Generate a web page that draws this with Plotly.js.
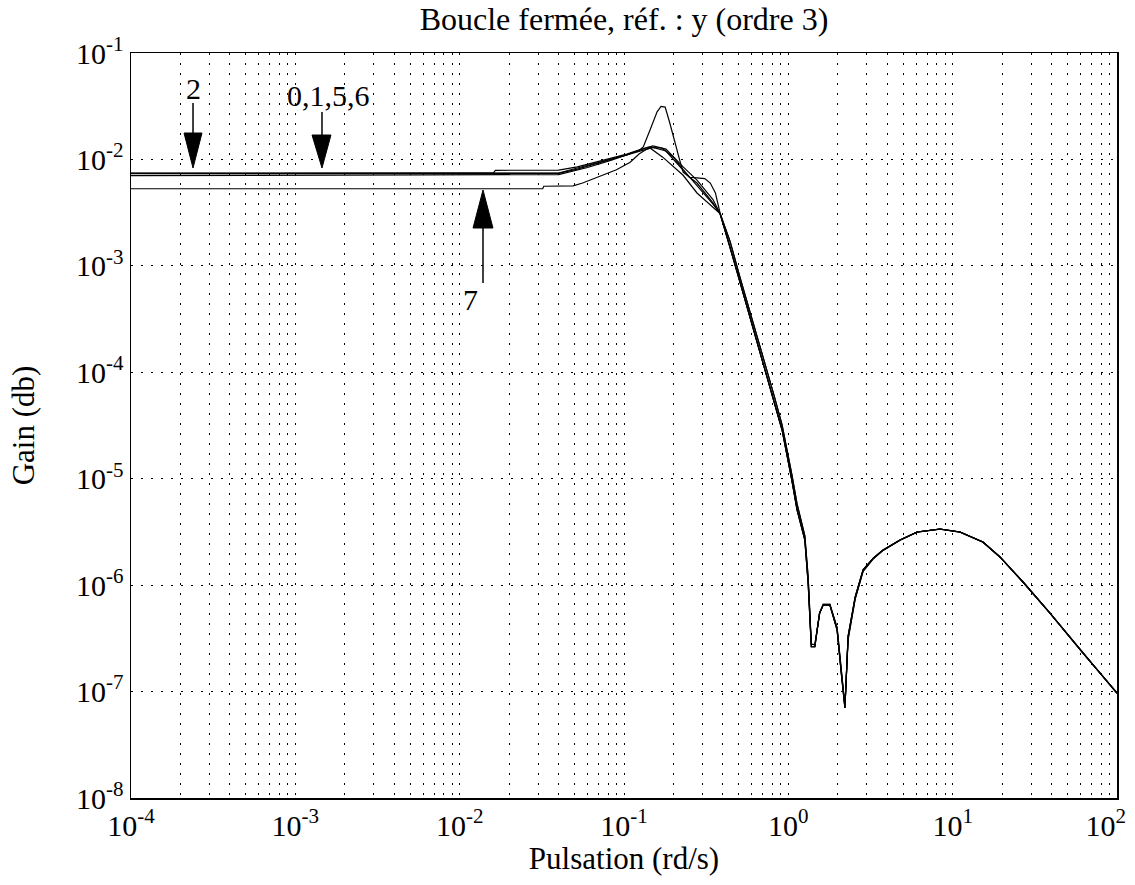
<!DOCTYPE html>
<html><head><meta charset="utf-8">
<script src="https://cdn.plot.ly/plotly-3.0.1.min.js"></script>
<style>html,body{margin:0;padding:0;background:#fff}#plot{width:1135px;height:885px}</style>
</head><body><div id="plot"></div>
<script>
// ---- data ----
const tailW = [0.442,0.508,0.545,0.62,0.721,0.82,0.916,1.05,1.13,1.26,1.32,1.38,1.45,1.55,1.63,1.79,1.98,2.1,2.21,2.31,2.55,2.85,3.3,3.77,4.78,6.07,8.37,11.1,15.3,19.4,26.8,39.1,62.1,100];
const tailA = [1.5e-3,7.0e-4,4.8e-4,2.4e-4,1.05e-4,5.2e-5,2.87e-5,9.7e-6,5.1e-6,2.66e-6,1.05e-6,2.65e-7,2.65e-7,5.5e-7,6.5e-7,6.5e-7,3.8e-7,1.5e-7,7.0e-8,3.3e-7,7.7e-7,1.39e-6,1.8e-6,2.14e-6,2.66e-6,3.16e-6,3.37e-6,3.16e-6,2.54e-6,1.84e-6,1.07e-6,5.47e-7,2.3e-7,9.7e-8];
const tailB = [1.7e-3,7.8e-4,5.3e-4,2.6e-4,1.2e-4,6.0e-5,3.2e-5,1.1e-5,5.8e-6,2.9e-6,1.2e-6,2.8e-7,2.75e-7,5.4e-7,6.6e-7,6.6e-7,4.0e-7,1.6e-7,7.3e-8,3.1e-7,7.4e-7,1.35e-6,1.78e-6,2.12e-6,2.64e-6,3.15e-6,3.36e-6,3.15e-6,2.53e-6,1.84e-6,1.07e-6,5.45e-7,2.3e-7,9.6e-8];

const c0W = [1e-4,0.016,0.0165,0.04,0.052,0.065,0.083,0.104,0.124,0.15,0.18,0.229,0.278,0.348,0.384];
const c0G = [7.45e-3,7.45e-3,7.9e-3,7.95e-3,8.5e-3,9.3e-3,1.03e-2,1.12e-2,1.23e-2,1.34e-2,1.25e-2,8.5e-3,6.4e-3,4.2e-3,3.1e-3];

const c1W = [1e-4,0.04,0.052,0.065,0.083,0.104,0.124,0.131,0.144,0.159,0.168,0.178,0.19,0.204,0.218,0.229,0.278,0.348,0.384];
const c1G = [7.4e-3,7.45e-3,8.3e-3,9.1e-3,1.0e-2,1.1e-2,1.22e-2,1.31e-2,1.89e-2,2.8e-2,3.15e-2,3.1e-2,2.2e-2,1.43e-2,9.9e-3,7.6e-3,6.0e-3,3.9e-3,3.1e-3];

const c5W = [1e-4,0.04,0.052,0.065,0.083,0.104,0.124,0.15,0.18,0.229,0.25,0.278,0.31,0.335,0.36,0.384];
const c5G = [7.35e-3,7.4e-3,8.1e-3,9.0e-3,1.0e-2,1.1e-2,1.2e-2,1.3e-2,1.2e-2,7.8e-3,6.8e-3,6.7e-3,6.6e-3,6.0e-3,4.84e-3,3.14e-3];

const c2W = [1e-4,0.04,0.06,0.083,0.11,0.14,0.17,0.2,0.229,0.278,0.348,0.384];
const c2G = [7.05e-3,7.2e-3,8.4e-3,9.8e-3,1.14e-2,1.3e-2,1.28e-2,1.05e-2,8.0e-3,5.7e-3,3.8e-3,3.1e-3];

const c7W = [1e-4,0.032,0.0325,0.049,0.056,0.071,0.09,0.109,0.124,0.138,0.144,0.172,0.229,0.278,0.348,0.384];
const c7G = [5.3e-3,5.3e-3,5.6e-3,5.65e-3,6.0e-3,6.9e-3,8.0e-3,9.4e-3,1.13e-2,1.25e-2,1.28e-2,1.05e-2,7.1e-3,4.84e-3,3.57e-3,3.1e-3];

const xTickVals = [1e-4,1e-3,1e-2,1e-1,1e0,1e1,1e2];
const xTickText = ['10<sup>-4</sup>','10<sup>-3</sup>','10<sup>-2</sup>','10<sup>-1</sup>','10<sup>0</sup>','10<sup>1</sup>','10<sup>2</sup>&nbsp;&nbsp;&nbsp;'];
const yTickVals = [1e-8,1e-7,1e-6,1e-5,1e-4,1e-3,1e-2,1e-1];
const yTickText = ['10<sup>-8</sup>','10<sup>-7</sup>','10<sup>-6</sup>','10<sup>-5</sup>','10<sup>-4</sup>','10<sup>-3</sup>','10<sup>-2</sup>','10<sup>-1</sup>'];

const titleText = 'Boucle fermée, réf. : y (ordre 3)';
const xTitle = 'Pulsation (rd/s)';
const yTitle = 'Gain (db)';
const arrowLabels = ['2','0,1,5,6','7'];

// ---- build ----
const FONT = 'Liberation Serif, Times New Roman, serif';
function tr(w, g){ return {x:w, y:g, type:'scatter', mode:'lines', line:{color:'#000', width:1.2}, hoverinfo:'skip', showlegend:false}; }
const traces = [
  tr(c0W.concat(tailW), c0G.concat(tailA)),
  tr(c1W.concat(tailW), c1G.concat(tailA)),
  tr(c5W.concat(tailW), c5G.concat(tailB)),
  tr(c2W.concat(tailW), c2G.concat(tailB)),
  tr(c7W.concat(tailW), c7G.concat(tailA))
];

const dotDash = '2px,8px';
function arrowShapes(x, xl, xr, yShaft, yBase, yTip){
  return [
    {type:'line', xref:'paper', yref:'paper', x0:x, x1:x, y0:yShaft, y1:yBase, line:{color:'#000', width:1.5}},
    {type:'path', xref:'paper', yref:'paper', path:`M${xl},${yBase} L${xr},${yBase} L${x},${yTip} Z`, fillcolor:'#000', line:{color:'#000', width:1}}
  ];
}
const shapes = [].concat(
  arrowShapes(0.0629, 0.0538, 0.0720, 0.9329, 0.8926, 0.8456),
  arrowShapes(0.1937, 0.1836, 0.2028, 0.9208, 0.8899, 0.8456),
  arrowShapes(0.3570, 0.3469, 0.3671, 0.6913, 0.7651, 0.8161)
);

const layout = {
  width:1135, height:885,
  margin:{l:131, r:18, t:53, b:87},
  paper_bgcolor:'#fff', plot_bgcolor:'#fff',
  font:{family:FONT, color:'#000', size:30},
  title:{text:titleText, x:0.5, xref:'paper', xanchor:'center', y:1-19/885, yref:'container', yanchor:'middle', font:{family:FONT, size:32, color:'#000'}},
  xaxis:{type:'log', range:[-4,2], tickvals:xTickVals, ticktext:xTickText, ticks:'', ticklabeloverflow:'allow',
    showline:true, mirror:true, linecolor:'#000', linewidth:1.5,
    showgrid:true, gridcolor:'#000', gridwidth:1, griddash:dotDash,
    minor:{dtick:'D1', showgrid:true, gridcolor:'#000', gridwidth:1, griddash:dotDash, ticks:''},
    zeroline:false, tickfont:{family:FONT, size:30},
    title:{text:xTitle, standoff:0, font:{family:FONT, size:31}}},
  yaxis:{type:'log', range:[-8,-1], tickvals:yTickVals, ticktext:yTickText, ticks:'',
    showline:true, mirror:true, linecolor:'#000', linewidth:1.5,
    showgrid:true, gridcolor:'#000', gridwidth:1, griddash:dotDash,
    zeroline:false, tickfont:{family:FONT, size:30},
    title:{text:yTitle, standoff:32, font:{family:FONT, size:31}}},
  shapes:shapes,
  annotations:[
    {text:arrowLabels[0], xref:'paper', yref:'paper', x:0.0629, y:0.953, showarrow:false, xanchor:'center', yanchor:'middle', font:{family:FONT, size:30}},
    {text:arrowLabels[1], xref:'paper', yref:'paper', x:0.1998, y:0.9436, showarrow:false, xanchor:'center', yanchor:'middle', font:{family:FONT, size:30}},
    {text:arrowLabels[2], xref:'paper', yref:'paper', x:0.3448, y:0.6685, showarrow:false, xanchor:'center', yanchor:'middle', font:{family:FONT, size:30}}
  ]
};
Plotly.newPlot('plot', traces, layout, {displayModeBar:false, staticPlot:true});
</script></body></html>
